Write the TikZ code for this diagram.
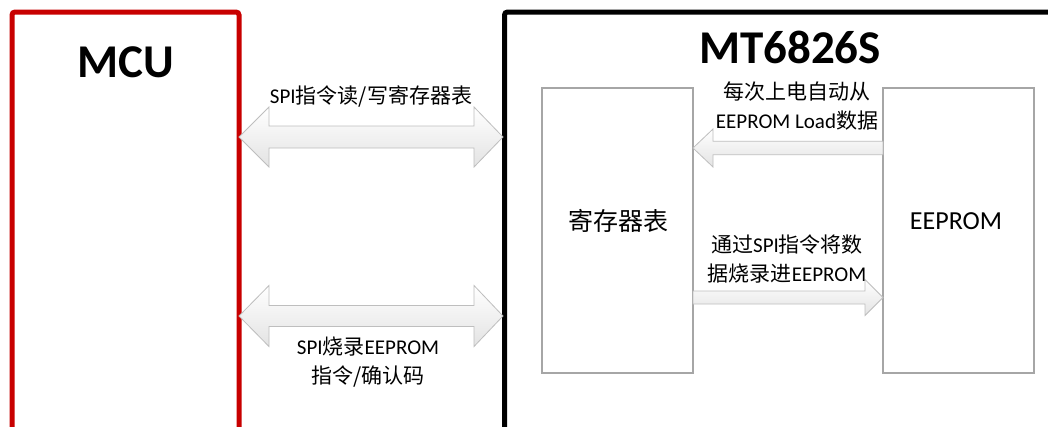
\documentclass[tikz,border=0pt]{standalone}
\usepackage{fontspec}
\setmainfont{Carlito}
\newfontfamily\cjk{Noto Sans CJK SC}
\newcommand{\zh}[1]{{\cjk #1}}
\newcommand{\fsz}[2]{\fontsize{#1}{#2}\selectfont}
\definecolor{mcured}{RGB}{200,0,0}
\definecolor{boxgray}{RGB}{166,166,166}
\definecolor{arrowgray}{RGB}{190,190,190}
\begin{document}
\begin{tikzpicture}[x=1pt,y=-1pt,
  mcubox/.style={draw=mcured, line width=5pt, rounded corners=3pt, inner sep=0pt},
  chipbox/.style={draw=black, line width=5pt, rounded corners=3pt, inner sep=0pt},
  innerbox/.style={draw=boxgray, line width=2.5pt, minimum width=151pt, minimum height=285pt, inner sep=0pt},
  blockarrow/.style={draw=arrowgray, line width=0.8pt, top color=white, bottom color=black!11},
  lbl/.style={font=\fsz{21}{29}, align=center, inner sep=0pt},
  title/.style={font=\fsz{47}{50}\bfseries, inner sep=0pt}]
\useasboundingbox (0,0) rectangle (1048,426);
\clip (0,0) rectangle (1048,426);
\fill[white] (0,0) rectangle (1048,426);
% outer boxes
\node[mcubox, minimum width=227pt, minimum height=488pt] (mcu) at (125.5,256) {};
\node[chipbox, minimum width=595.5pt, minimum height=488pt] (chip) at (802.25,256) {};
\node[title] (mcutxt) at (126,62) {MCU};
\node[title] (chiptxt) at (790,47) {MT6826S};
% inner boxes
\node[innerbox] (reg) at (617.5,230.5) {};
\node[innerbox] (eep) at (958.5,230.5) {};
\node[font=\fsz{25}{30}, inner sep=0pt] (regtxt) at (618,221) {\zh{寄存器表}};
\node[font=\fsz{26}{30}, inner sep=0pt] (eeptxt) at (956,221) {EEPROM};
% tips of the arrows
\coordinate (t1l) at (239,137);
\coordinate (t1r) at (503,137);
\coordinate (t2l) at (239,316);
\coordinate (t2r) at (503,316);
% top double arrow
\path[blockarrow] (t1l) -- ++(30,-30) -- ++(0,19) -- (474,126) -- (474,107) -- (t1r)
  -- (474,167) -- (474,148) -- (269,148) -- (269,167) -- cycle;
% bottom double arrow
\path[blockarrow] (t2l) -- ++(30,-30.5) -- ++(0,20) -- (474,305.5) -- (474,285.5) -- (t2r)
  -- (474,346.5) -- (474,326.5) -- (269,326.5) -- (269,346.5) -- cycle;
% load arrow (EEPROM -> register)
\path[blockarrow] (693,148) -- (713,129) -- (713,141.3) -- (883,141.3) -- (883,154.7)
  -- (713,154.7) -- (713,167) -- cycle;
% program arrow (register -> EEPROM)
\path[blockarrow] (693,291) -- (865,291) -- (865,279.5) -- (883,297.5) -- (865,315.5)
  -- (865,304) -- (693,304) -- cycle;
% labels
\node[lbl] (l1) at (371,96) {SPI\zh{指令读/写寄存器表}};
\node[lbl] (l2) at (368,362) {SPI\zh{烧录}EEPROM\\\zh{指令/确认码}};
\node[lbl] (l3) at (797,106) {\zh{每次上电自动从}\\EEPROM Load\zh{数据}};
\node[lbl] (l4) at (787,259) {\zh{通过}SPI\zh{指令将数}\\\zh{据烧录进}EEPROM};
\end{tikzpicture}
\end{document}
